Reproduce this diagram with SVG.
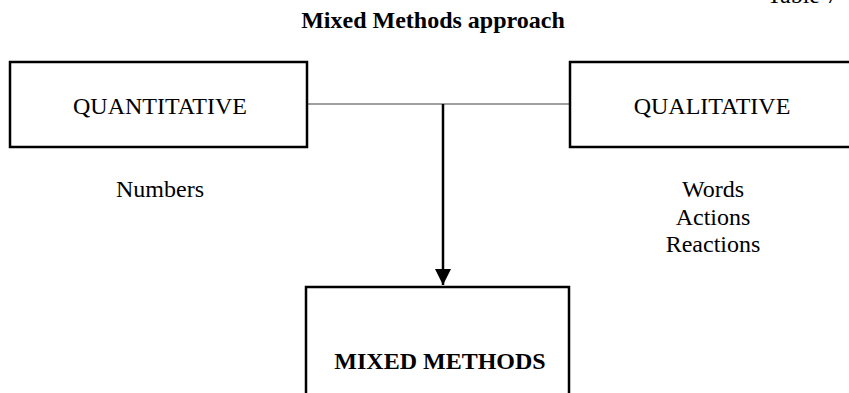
<svg xmlns="http://www.w3.org/2000/svg" width="849" height="393" viewBox="0 0 849 393">
  <style>
    .box { fill: #ffffff; stroke: #000000; stroke-width: 2.5; }
    .lbl { font-family: "Liberation Serif", "Times New Roman", serif; font-size: 24px; fill: #000000; text-anchor: middle; }
    .bold { font-weight: bold; }
    .link { stroke: #7f7f7f; stroke-width: 1.5; fill: none; }
    .arrow { stroke: #000000; stroke-width: 2.5; fill: none; }
  </style>
  <defs>
    <marker id="head" markerUnits="userSpaceOnUse" markerWidth="18" markerHeight="18" refX="16" refY="8" orient="auto">
      <path d="M0,0 L16,8 L0,16 Z" fill="#000000"/>
    </marker>
  </defs>
  <rect width="849" height="393" fill="#ffffff"/>

  <text class="lbl" x="838" y="3" style="text-anchor:end">Table 7</text>
  <text class="lbl bold" x="433" y="28">Mixed Methods approach</text>

  <g id="connectors">
    <line class="link" x1="307" y1="104" x2="570" y2="104"/>
    <line class="arrow" x1="443" y1="104" x2="443" y2="285" marker-end="url(#head)"/>
  </g>

  <g id="quantitative">
    <rect class="box" x="10" y="62" width="297" height="85"/>
    <text class="lbl" x="160" y="114">QUANTITATIVE</text>
  </g>

  <g id="qualitative">
    <rect class="box" x="570" y="62" width="290" height="85"/>
    <text class="lbl" x="712" y="114">QUALITATIVE</text>
  </g>

  <g id="numbers">
    <text class="lbl" x="160" y="197">Numbers</text>
  </g>

  <g id="qualitative-data">
    <text class="lbl" x="713" y="197">Words</text>
    <text class="lbl" x="713" y="225">Actions</text>
    <text class="lbl" x="713" y="252">Reactions</text>
  </g>

  <g id="mixed-methods">
    <rect class="box" x="306" y="287" width="263" height="120"/>
    <text class="lbl bold" x="440" y="369">MIXED METHODS</text>
  </g>
</svg>
